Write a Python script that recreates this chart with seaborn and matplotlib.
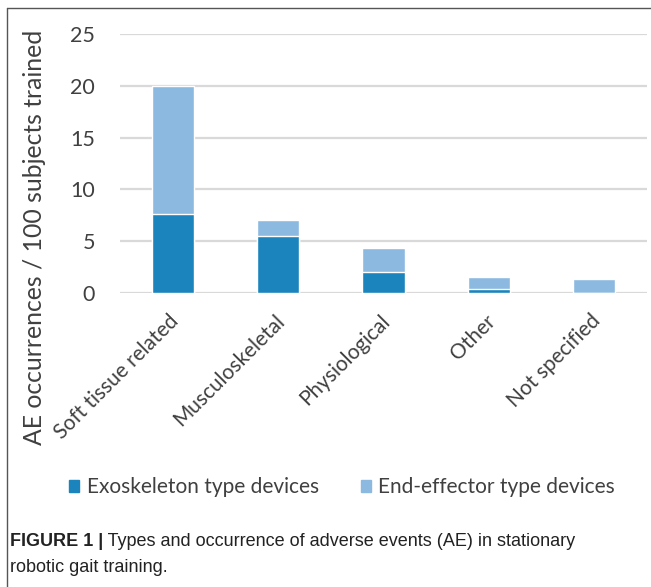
import matplotlib
matplotlib.use("Agg")
import matplotlib.pyplot as plt
import matplotlib.transforms as mtransforms
import seaborn as sns
import pandas as pd
from matplotlib.patches import Patch
from matplotlib.lines import Line2D

categories = ["Soft tissue related", "Musculoskeletal", "Physiological", "Other", "Not specified"]
exoskeleton = [7.6, 5.5, 2.0, 0.4, 0.0]
end_effector = [12.4, 1.5, 2.3, 1.1, 1.35]
yticks = [0, 5, 10, 15, 20, 25]
ylabel = "AE occurrences / 100 subjects trained"
legend_labels = ["Exoskeleton type devices", "End-effector type devices"]
caption_bold = "FIGURE 1 |"
caption_rest = " Types and occurrence of adverse events (AE) in stationary"
caption_line2 = "robotic gait training."

sns.set_theme(style="white")
plt.rcParams['font.family'] = ['Lato', 'DejaVu Sans']

exo_color = "#1b84bd"
end_color = "#8bb9e0"
text_color = "#404040"

df = pd.DataFrame({
    "category": categories,
    "exo": exoskeleton,
    "end": end_effector,
})
df["total"] = df["exo"] + df["end"]

fig = plt.figure(figsize=(6.51, 5.87), dpi=100)
ax = fig.add_axes([120/651, 1 - 293/587, 527/651, (293 - 34)/587])

sns.barplot(data=df, x="category", y="total", color=end_color, width=0.4,
            saturation=1, ax=ax, zorder=3)
sns.barplot(data=df, x="category", y="exo", color=exo_color, width=0.4,
            saturation=1, ax=ax, zorder=4)

ax.set_ylim(0, 25)
ax.set_xlim(-0.5, 4.5)
ax.set_yticks(yticks)
for y in yticks:
    ax.axhline(y, color="#d9d9d9", lw=1.6, zorder=1)
for s in ax.spines.values():
    s.set_visible(False)
ax.tick_params(axis="both", length=0)
ax.set_yticklabels([str(v) for v in yticks], fontsize=15.5, color=text_color)
ax.tick_params(axis="y", pad=18)
ax.set_xticks(range(len(categories)))
ax.set_xticklabels(categories, rotation=45, ha="right", rotation_mode="anchor",
                   fontsize=15, color=text_color)
ax.tick_params(axis="x", pad=12)
offset = mtransforms.ScaledTranslation(-4/100, -1/100, fig.dpi_scale_trans)
for lbl in ax.get_xticklabels():
    lbl.set_transform(lbl.get_transform() + offset)
ax.set_xlabel("")
ax.set_ylabel("")
fig.text(35/651, 1 - 237/587, ylabel, rotation=90, ha="center", va="center",
         fontsize=17.8, color=text_color)

handles = [Patch(color=exo_color), Patch(color=end_color)]
fig.legend(handles, legend_labels, loc="center", bbox_to_anchor=(342/651, 1 - 487/587),
           ncol=2, frameon=False, fontsize=15, handlelength=0.5, handleheight=0.5,
           handletextpad=0.35, columnspacing=2.0, labelcolor=text_color)

# frame lines
fig.add_artist(Line2D([7/651, 7/651], [0, 1 - 8/587], transform=fig.transFigure,
                      color="#555555", lw=1))
fig.add_artist(Line2D([7/651, 1], [1 - 8/587, 1 - 8/587], transform=fig.transFigure,
                      color="#555555", lw=1))

cap_font = ['Liberation Sans Narrow', 'Liberation Sans', 'DejaVu Sans']
t = fig.text(10/651, 1 - 541/587, caption_bold, fontsize=13, fontweight="bold",
             family=cap_font, color="#222222", va="center")
fig.canvas.draw()
bb = t.get_window_extent()
fig.text(bb.x1 / fig.bbox.width, 1 - 541/587, caption_rest, fontsize=13,
         family=cap_font, color="#222222", va="center")
fig.text(10/651, 1 - 567/587, caption_line2, fontsize=13, family=cap_font,
         color="#222222", va="center")

fig.savefig("out.png", dpi=100)
